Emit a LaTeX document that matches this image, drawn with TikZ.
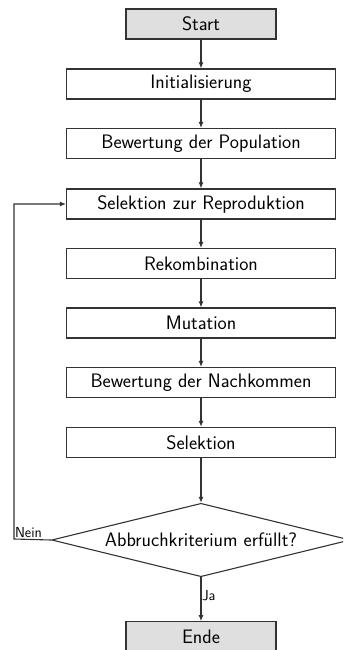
\documentclass[tikz,border=0pt]{standalone}
\usetikzlibrary{shapes.geometric,arrows.meta}
\begin{document}
\begin{tikzpicture}[x=1pt,y=-1pt,line width=1.1pt,
  font=\fontsize{19.5}{22}\selectfont\sffamily,
  stepbox/.style={draw=black!80,rectangle,minimum width=269pt,minimum height=30pt,inner sep=0pt},
  endbox/.style={stepbox,minimum width=150pt,fill=gray!25},
  decision/.style={draw=black!80,diamond,aspect=4.07,inner sep=0pt,minimum width=298.6pt,minimum height=73.4pt},
  flow/.style={draw=black!80,-{Latex[length=6pt,width=5pt]}},
  lbl/.style={font=\fontsize{14.5}{16}\selectfont\sffamily,inner sep=0.5pt}]
  \clip (0,0) rectangle (343,650);

  \node[endbox]  (start)  at (201,24)    {Start};
  \node[stepbox] (init)   at (201,84)    {Initialisierung};
  \node[stepbox] (bewpop) at (201,143.5) {Bewertung der Population};
  \node[stepbox] (selrep) at (201,204)   {Selektion zur Reproduktion};
  \node[stepbox] (rekomb) at (201,263.5) {Rekombination};
  \node[stepbox] (mut)    at (201,323)   {Mutation};
  \node[stepbox] (bewnach) at (201,382.5) {Bewertung der Nachkommen};
  \node[stepbox] (sel)    at (201,442.3) {Selektion};
  \node[decision] (dec)   at (201,540)   {Abbruchkriterium erfüllt?};
  \node[endbox]  (ende)   at (201,636.7) {Ende};
  \coordinate (loop) at (14,539);

  \draw[flow] (start) -- (init);
  \draw[flow] (init) -- (bewpop);
  \draw[flow] (bewpop) -- (selrep);
  \draw[flow] (selrep) -- (rekomb);
  \draw[flow] (rekomb) -- (mut);
  \draw[flow] (mut) -- (bewnach);
  \draw[flow] (bewnach) -- (sel);
  \draw[flow] (sel) -- (dec);
  \draw[flow] (dec.south) -- node[lbl,anchor=west,pos=0.42] {Ja} (ende.north);
  \draw[flow] (dec.west) -- (loop) |- (selrep.west);
  \node[lbl,anchor=south west] (nein) at (loop) {Nein};
\end{tikzpicture}
\end{document}
